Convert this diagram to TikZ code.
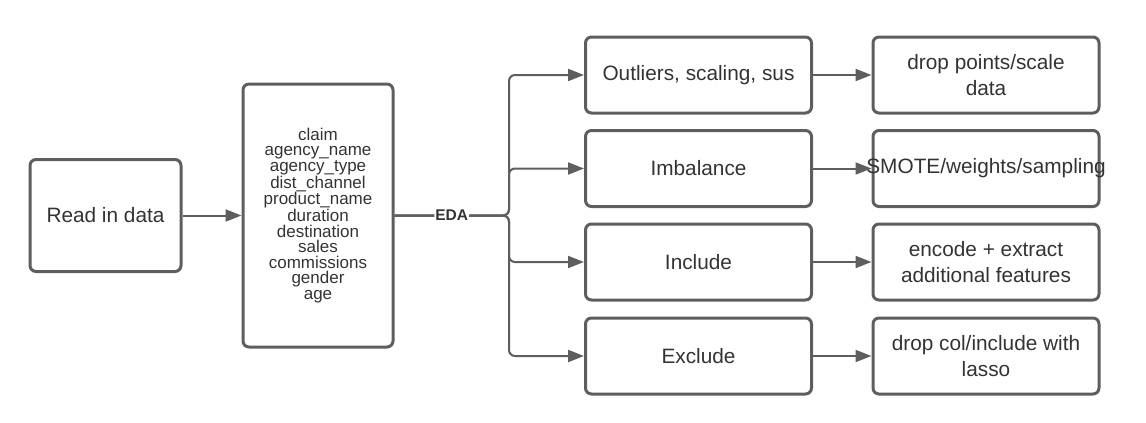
\documentclass[tikz,border=0pt]{standalone}
\usepackage{fontspec}
\setmainfont{Liberation Sans}
\usepackage{tikz}
\usetikzlibrary{calc,positioning,arrows.meta}
\definecolor{edge}{HTML}{5E5E5E}
\definecolor{ink}{HTML}{333333}
\tikzstyle{step box} = [draw=edge,line width=3pt,rounded corners=6pt,inner sep=0pt,text=ink,align=center,font=\fontsize{20.8}{26.5}\selectfont]
\tikzstyle{start} = [step box,minimum width=151pt,minimum height=112pt]
\tikzstyle{columns} = [step box,minimum width=150pt,minimum height=263pt,font=\fontsize{17}{15.5}\selectfont]
\tikzstyle{task} = [step box,minimum width=226pt,minimum height=76pt]
\tikzstyle{flow} = [draw=edge,line width=2pt,arrows={-Triangle[length=16pt,width=12pt]}]
\tikzstyle{eda} = [fill=white,text=ink,inner sep=1pt,font=\fontsize{15.5}{16}\selectfont\bfseries]

\begin{document}
\begin{tikzpicture}[x=1pt,y=-1pt]
	\useasboundingbox (0,0) rectangle (1146,423);
	\node (read)[start] at (105.5,215.5) {Read in data};
	\node (vars)[columns] at (318,215.5) {claim\\agency\_name\\agency\_type\\dist\_channel\\product\_name\\duration\\destination\\sales\\commissions\\gender\\age};
	\coordinate (split) at (509,215.5);

	\node (out)[task] at (698.5,75) {Outliers, scaling, sus};
	\node (imb)[task] at (698.5,168.5) {Imbalance};
	\node (inc)[task] at (698.5,262) {Include};
	\node (exc)[task] at (698.5,356) {Exclude};

	\node (drop)[task] at (986,75) {drop points/scale\\data};
	\node (smote)[task] at (986,168.5) {\makebox[0pt][c]{SMOTE/weights/sampling}};
	\node (enc)[task] at (986,262) {encode + extract\\additional features};
	\node (col)[task] at (986,356) {drop col/include with\\lasso};

	\draw[flow] (read) -- (vars);
	\draw[flow,rounded corners=6pt] (vars.east) -- (split) |- (imb);
	\draw[flow,rounded corners=6pt] (vars.east) -- (split) |- (inc);
	\draw[flow,rounded corners=6pt] (vars.east) -- (split) |- (exc);
	\draw[flow,rounded corners=6pt] (vars.east) -- node[eda] {EDA} (split) |- (out);

	\draw[flow] (out) -- (drop);
	\draw[flow] (imb) -- (smote);
	\draw[flow] (inc) -- (enc);
	\draw[flow] (exc) -- (col);
\end{tikzpicture}
\end{document}
